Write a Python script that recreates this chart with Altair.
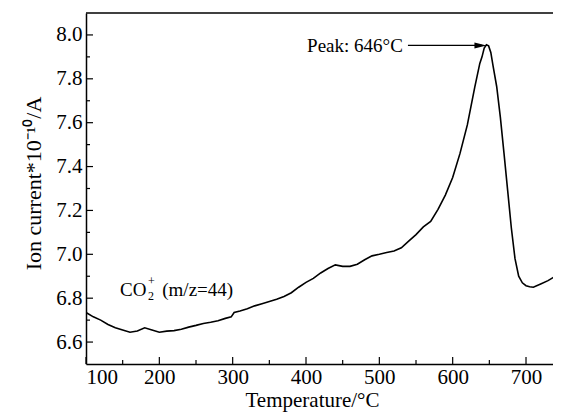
import altair as alt
import pandas as pd

# ---- data ----
temps = [100, 110, 120, 130, 140, 150, 160, 170, 180, 190, 200, 210, 220, 230, 240,
         250, 260, 270, 280, 290, 298, 302, 310, 320, 330, 340, 350, 360, 370, 380,
         390, 400, 410, 420, 430, 440, 450, 460, 470, 480, 490, 500, 510, 520, 530,
         540, 550, 560, 570, 580, 590, 600, 610, 620, 630, 637, 640, 643, 646, 649,
         652, 655, 660, 665, 670, 675, 680, 685, 690, 695, 700, 705, 710, 720, 730,
         740, 750]
ion = [6.735, 6.715, 6.700, 6.680, 6.665, 6.655, 6.645, 6.650, 6.665, 6.655, 6.645, 6.650,
       6.652, 6.658, 6.668, 6.676, 6.685, 6.690, 6.697, 6.708, 6.715, 6.735, 6.742, 6.752,
       6.765, 6.775, 6.785, 6.795, 6.808, 6.825, 6.850, 6.872, 6.890, 6.915, 6.935, 6.952,
       6.945, 6.945, 6.955, 6.975, 6.993, 7.000, 7.008, 7.015, 7.030, 7.060, 7.090, 7.125,
       7.150, 7.205, 7.270, 7.350, 7.460, 7.590, 7.760, 7.870, 7.900, 7.940, 7.955, 7.950,
       7.920, 7.860, 7.765, 7.625, 7.460, 7.290, 7.120, 6.980, 6.900, 6.870, 6.857, 6.852,
       6.850, 6.865, 6.880, 6.900, 6.925]

x_major = [100, 200, 300, 400, 500, 600, 700]
x_minor = [150, 250, 350, 450, 550, 650]
y_major = [6.6, 6.8, 7.0, 7.2, 7.4, 7.6, 7.8, 8.0]
y_minor = [6.7, 6.9, 7.1, 7.3, 7.5, 7.7, 7.9]

peak_label = ["Peak: 646°C"]
peak_label_pos = [532, 7.923]
arrow_from = [539, 7.952]
arrow_to = [646, 7.952]

co2_parts = ["CO", "2", "+", "(m/z=44)"]
co2_x = [146.5, 184.5, 184.5, 204]
co2_y = [6.809, 6.790, 6.859, 6.809]

W, H = 467, 351
FONT = "Liberation Serif"

# 100 -> left edge, 73.33 px per 100 degC; right edge is cut like the reference
xs = alt.Scale(domain=[100, 736.8], nice=False, zero=False)
ys = alt.Scale(domain=[6.5, 8.1], nice=False, zero=False)

df = pd.DataFrame({"T": temps, "V": ion})

line = alt.Chart(df).mark_line(color="black", strokeWidth=1.6, clip=True).encode(
    x=alt.X("T:Q", scale=xs, axis=alt.Axis(
        values=x_major, tickSize=0, labelPadding=2, labelFontSize=21,
        title="Temperature/°C", titleFontSize=21, titleFontWeight="normal",
        titleX=226, titleY=42, titleBaseline="alphabetic", titleAlign="center")),
    y=alt.Y("V:Q", scale=ys, axis=alt.Axis(
        values=y_major, format=".1f", tickSize=0, labelPadding=4, labelFontSize=21,
        title="Ion current*10⁻¹⁰/A", titleFontSize=22, titleFontWeight="normal",
        titleX=-46, titleY=170, titleBaseline="alphabetic", titleAngle=270,
        titleAlign="center")),
)

xmaj = alt.Chart(pd.DataFrame({"T": x_major})).mark_rule(color="black", strokeWidth=1.2).encode(
    x=alt.X("T:Q", scale=xs), y=alt.value(H), y2=alt.value(H - 7))
xmin = alt.Chart(pd.DataFrame({"T": x_minor})).mark_rule(color="black", strokeWidth=1.2).encode(
    x=alt.X("T:Q", scale=xs), y=alt.value(H), y2=alt.value(H - 4))
ymaj = alt.Chart(pd.DataFrame({"V": y_major})).mark_rule(color="black", strokeWidth=1.2).encode(
    y=alt.Y("V:Q", scale=ys), x=alt.value(0), x2=alt.value(7))
ymin = alt.Chart(pd.DataFrame({"V": y_minor})).mark_rule(color="black", strokeWidth=1.2).encode(
    y=alt.Y("V:Q", scale=ys), x=alt.value(0), x2=alt.value(4))

top = alt.Chart(pd.DataFrame({"a": [0]})).mark_rule(color="black", strokeWidth=1.5).encode(
    x=alt.value(0), x2=alt.value(W), y=alt.value(0))

arrow = alt.Chart(pd.DataFrame({"x1": [arrow_from[0]], "x2": [arrow_to[0] - 6],
                                "y": [arrow_from[1]]})).mark_rule(
    color="black", strokeWidth=1.2).encode(
    x=alt.X("x1:Q", scale=xs), x2="x2:Q", y=alt.Y("y:Q", scale=ys))
head = alt.Chart(pd.DataFrame({"x": [arrow_to[0]], "y": [arrow_to[1]]})).mark_point(
    shape="M-2,-0.5L0,0L-2,0.5Z", size=144, filled=True, color="black",
    opacity=1, strokeWidth=0).encode(
    x=alt.X("x:Q", scale=xs), y=alt.Y("y:Q", scale=ys))

plabel = alt.Chart(pd.DataFrame({"x": [peak_label_pos[0]], "y": [peak_label_pos[1]],
                                 "t": peak_label})).mark_text(
    align="right", baseline="alphabetic", fontSize=19, font=FONT, color="black").encode(
    x=alt.X("x:Q", scale=xs), y=alt.Y("y:Q", scale=ys), text="t:N")

co2 = pd.DataFrame({"x": co2_x, "y": co2_y, "t": co2_parts, "s": [19, 12, 12, 19]})
co2_text = alt.Chart(co2).mark_text(
    align="left", baseline="alphabetic", font=FONT, color="black").encode(
    x=alt.X("x:Q", scale=xs), y=alt.Y("y:Q", scale=ys), text="t:N",
    size=alt.Size("s:Q", scale=None, legend=None))

chart = alt.layer(line, xmaj, xmin, ymaj, ymin, top, arrow, head, plabel, co2_text).properties(
    width=W, height=H,
    padding={"left": 78, "top": 5, "right": 0, "bottom": 48},
    autosize=alt.AutoSizeParams(type="none"),
).configure(font=FONT).configure_view(stroke=None).configure_axis(
    grid=False, domainColor="black", domainWidth=1.5, labelColor="black",
    titleColor="black", labelFont=FONT, titleFont=FONT,
)

chart.save("out.html", embed_options={"renderer": "svg", "actions": False})
